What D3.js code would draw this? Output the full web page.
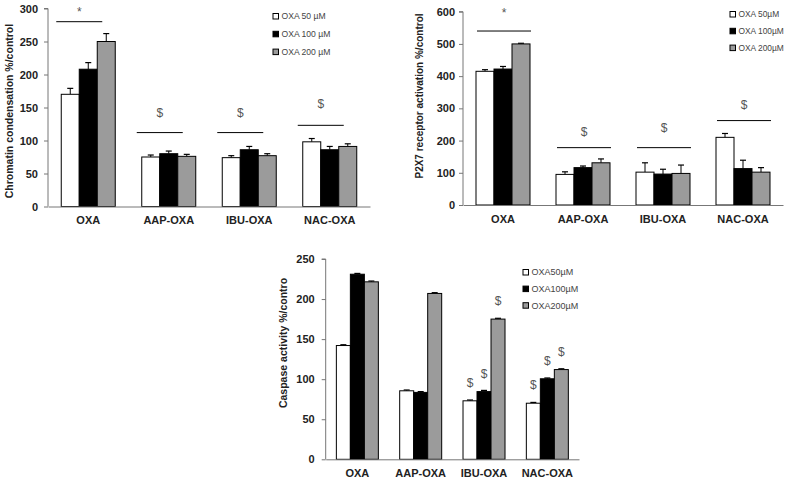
<!DOCTYPE html>
<html><head><meta charset="utf-8">
<script src="https://cdn.jsdelivr.net/npm/d3@7"></script>
<style>body{margin:0;background:#fff}svg{display:block}</style>
</head><body>
<script>
// ---------- DATA ----------
const groups = ["OXA", "AAP-OXA", "IBU-OXA", "NAC-OXA"];

const chromatinLegend = ["OXA 50 µM", "OXA 100 µM", "OXA 200 µM"];
const chromatin50 = [170, 75, 74, 98];
const chromatin100 = [208, 80, 86, 86];
const chromatin200 = [250, 76, 77, 91];
const chromatinErr50 = [9, 3, 3, 5];
const chromatinErr100 = [10, 4, 5, 5];
const chromatinErr200 = [12, 3, 3, 4];
const chromatinSigLine = [280, 112, 112, 123];
const chromatinSigText = ["*", "$", "$", "$"];
const chromatinSigTextLevel = [295, 142, 142, 155];
const chromatinTicks = [0, 50, 100, 150, 200, 250, 300];

const p2x7Legend = ["OXA 50µM", "OXA 100µM", "OXA 200µM"];
const p2x7_50 = [415, 95, 102, 210];
const p2x7_100 = [422, 116, 96, 113];
const p2x7_200 = [500, 131, 98, 102];
const p2x7Err50 = [5, 8, 29, 12];
const p2x7Err100 = [8, 5, 15, 26];
const p2x7Err200 = [2, 12, 26, 14];
const p2x7SigLine = [540, 178, 178, 262];
const p2x7SigText = ["*", "$", "$", "$"];
const p2x7SigTextLevel = [596, 227, 239, 310];
const p2x7Ticks = [0, 100, 200, 300, 400, 500, 600];

const caspaseLegend = ["OXA50µM", "OXA100µM", "OXA200µM"];
const caspase50 = [142, 85.5, 73, 70];
const caspase100 = [231, 83.5, 84.5, 100.5];
const caspase200 = [221.5, 207, 175, 112];
const caspaseErr50 = [1, 1, 1, 1];
const caspaseErr100 = [1, 1, 1.5, 1];
const caspaseErr200 = [1, 1, 1, 1];
const caspaseMark50 = ["", "", "$", "$"];
const caspaseMark100 = ["", "", "$", "$"];
const caspaseMark200 = ["", "", "$", "$"];
const caspaseTicks = [0, 50, 100, 150, 200, 250];

const seriesFill = ["#ffffff", "#000000", "#9b9b9b"];

// ---------- DRAW ----------
const W = 790, H = 479;
const svg = d3.select("body").append("svg").attr("width", W).attr("height", H)
  .style("font-family", "'Liberation Sans', Arial, sans-serif");
svg.append("rect").attr("width", W).attr("height", H).attr("fill", "#fff");

function panel(cfg) {
  const g = svg.append("g");
  const x = d3.scaleBand().domain(groups).range([cfg.xl, cfg.xr]).paddingInner(0).paddingOuter(0);
  const y = d3.scaleLinear().domain([0, cfg.ymax]).range([cfg.yb, cfg.yt]);
  const inner = d3.scaleBand().domain(d3.range(3)).range([0, cfg.barW * 3]);
  const off = (x.bandwidth() - cfg.barW * 3) / 2;

  // bars
  cfg.series.forEach((vals, s) => {
    const errs = cfg.errors[s];
    groups.forEach((grp, i) => {
      const bx = x(grp) + off + inner(s);
      const top = y(vals[i]);
      const ey = y(vals[i] + errs[i]);
      const cx = bx + cfg.barW / 2;
      g.append("line").attr("x1", cx).attr("x2", cx).attr("y1", top).attr("y2", ey)
        .attr("stroke", "#000").attr("stroke-width", 1);
      g.append("line").attr("x1", cx - 3).attr("x2", cx + 3).attr("y1", ey).attr("y2", ey)
        .attr("stroke", "#000").attr("stroke-width", 1.2);
      g.append("rect").attr("x", bx).attr("y", top).attr("width", cfg.barW)
        .attr("height", y(0) - top).attr("fill", seriesFill[s])
        .attr("stroke", "#000").attr("stroke-width", 1);
      if (cfg.marks && cfg.marks[s][i]) {
        g.append("text").attr("x", cx).attr("y", top - 14).attr("text-anchor", "middle")
          .attr("font-size", 12).attr("fill", "#555").text(cfg.marks[s][i]);
      }
    });
  });

  // y axis
  const ya = g.append("g").attr("transform", `translate(${cfg.xl},0)`)
    .call(d3.axisLeft(y).tickValues(cfg.ticks).tickSize(4).tickPadding(cfg.tickPad).tickFormat(d3.format("d")));
  ya.select(".domain").attr("stroke", "#777").attr("d", `M-4,${y(cfg.ymax)}H0V${y(0)}`);
  ya.selectAll(".tick line").attr("stroke", "#777");
  ya.selectAll(".tick text").attr("font-size", 11).attr("font-weight", "bold").attr("fill", "#222");

  // x axis
  const xa = g.append("g").attr("transform", `translate(0,${cfg.yb})`)
    .call(d3.axisBottom(x).tickSize(0).tickPadding(cfg.xPad));
  xa.select(".domain").attr("stroke", "#777");
  xa.selectAll(".tick text").attr("font-size", 11).attr("font-weight", "bold").attr("fill", "#222");

  // y label
  g.append("text").attr("transform", `translate(${cfg.labelX},${cfg.labelY}) rotate(-90)`)
    .attr("text-anchor", "middle").attr("font-size", cfg.labelSize).attr("font-weight", "bold")
    .attr("fill", "#222").text(cfg.label);

  // significance
  if (cfg.sigLine) {
    groups.forEach((grp, i) => {
      const c = x(grp) + x.bandwidth() / 2;
      g.append("line").attr("x1", c + cfg.sigL).attr("x2", c + cfg.sigR)
        .attr("y1", y(cfg.sigLine[i])).attr("y2", y(cfg.sigLine[i]))
        .attr("stroke", "#000").attr("stroke-width", 1);
      g.append("text").attr("x", c + (cfg.sigL + cfg.sigR) / 2).attr("y", y(cfg.sigTextLevel[i]) + 4)
        .attr("text-anchor", "middle").attr("font-size", 12).attr("fill", "#555")
        .text(cfg.sigText[i]);
    });
  }

  // legend
  cfg.legend.forEach((t, s) => {
    const ly = cfg.legY + s * cfg.legStep;
    g.append("rect").attr("x", cfg.legX).attr("y", ly - 2.5).attr("width", 5.5).attr("height", 5.5)
      .attr("fill", seriesFill[s]).attr("stroke", "#000").attr("stroke-width", 1);
    g.append("text").attr("x", cfg.legX + 8.5).attr("y", ly + 3.3).attr("font-size", cfg.legSize)
      .attr("fill", "#444").text(t);
  });
}

panel({
  xl: 48, xr: 370, yb: 206.5, yt: 8.5, ymax: 300, barW: 18, ticks: chromatinTicks, tickPad: 6, xPad: 10,
  series: [chromatin50, chromatin100, chromatin200],
  errors: [chromatinErr50, chromatinErr100, chromatinErr200],
  label: "Chromatin condensation %/control", labelX: 13, labelY: 111, labelSize: 10.5,
  sigLine: chromatinSigLine, sigText: chromatinSigText, sigTextLevel: chromatinSigTextLevel, sigL: -32, sigR: 14,
  legend: chromatinLegend, legX: 273, legY: 16, legStep: 17.8, legSize: 8.6
});

panel({
  xl: 463, xr: 783, yb: 205, yt: 11.7, ymax: 600, barW: 18, ticks: p2x7Ticks, tickPad: 4, xPad: 10,
  series: [p2x7_50, p2x7_100, p2x7_200],
  errors: [p2x7Err50, p2x7Err100, p2x7Err200],
  label: "P2X7 receptor activation %/control", labelX: 423, labelY: 96, labelSize: 10,
  sigLine: p2x7SigLine, sigText: p2x7SigText, sigTextLevel: p2x7SigTextLevel, sigL: -26, sigR: 28,
  legend: p2x7Legend, legX: 730, legY: 14, legStep: 16.8, legSize: 8.4
});

panel({
  xl: 325.7, xr: 579, yb: 459.3, yt: 259, ymax: 250, barW: 14, ticks: caspaseTicks, tickPad: 7, xPad: 10,
  series: [caspase50, caspase100, caspase200],
  errors: [caspaseErr50, caspaseErr100, caspaseErr200],
  marks: [caspaseMark50, caspaseMark100, caspaseMark200],
  label: "Caspase activity %/contro", labelX: 287, labelY: 343, labelSize: 10.5,
  legend: caspaseLegend, legX: 523, legY: 272, legStep: 16.6, legSize: 9
});
</script>
</body></html>
